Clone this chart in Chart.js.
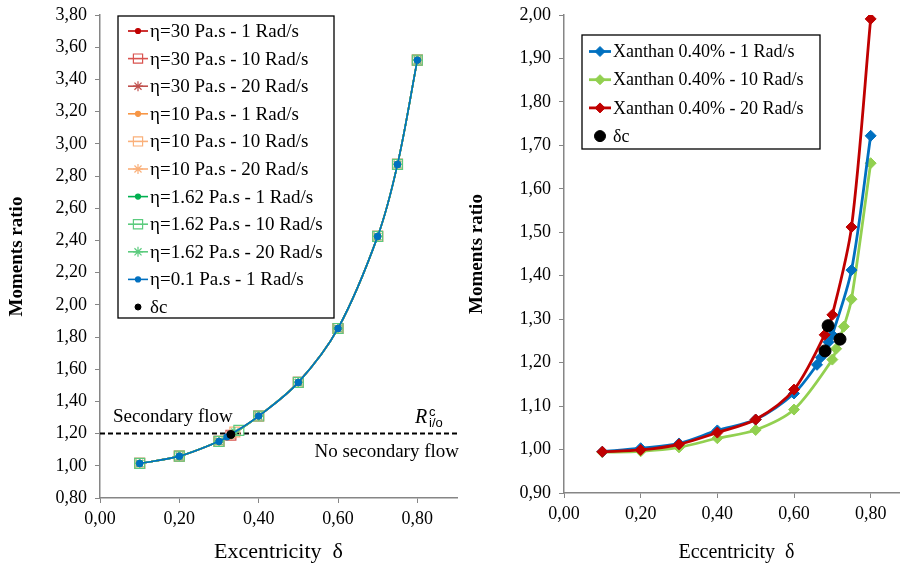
<!DOCTYPE html>
<html>
<head>
<meta charset="utf-8">
<script src="https://cdn.jsdelivr.net/npm/chart.js@4.4.1/dist/chart.umd.min.js"></script>
<style>
    html, body {margin: 0; padding: 0; background: #fff; width: 900px; height: 567px; overflow: hidden;}
    #left {position: absolute; left: 0; top: 0;}
    #right {position: absolute; left: 460px; top: 0;}
</style>
</head>
<body>
<canvas id="left" width="460" height="567"></canvas>
<canvas id="right" width="460" height="567"></canvas>
<script>
// ---- left chart: newtonian fluids ----
const eccentricity = [0.1, 0.2, 0.3, 0.4, 0.5, 0.6, 0.7, 0.75, 0.8];
const ratioNewtonian = [1.015, 1.060, 1.152, 1.309, 1.518, 1.853, 2.425, 2.872, 3.52];
const leftLabels = [
    'η=30 Pa.s - 1 Rad/s', 'η=30 Pa.s - 10 Rad/s', 'η=30 Pa.s - 20 Rad/s',
    'η=10 Pa.s - 1 Rad/s', 'η=10 Pa.s - 10 Rad/s', 'η=10 Pa.s - 20 Rad/s',
    'η=1.62 Pa.s - 1 Rad/s', 'η=1.62 Pa.s - 10 Rad/s', 'η=1.62 Pa.s - 20 Rad/s',
    'η=0.1 Pa.s - 1 Rad/s'
];
const leftColors = ['#C00000', '#D9534F', '#C0504D', '#F79646', '#FAB07A', '#FAB07A',
    '#00B050', '#5CCB7E', '#5CCB7E', '#0070C0'];
const leftMarkers = ['circle', 'rect', 'star', 'circle', 'rect', 'star', 'circle', 'rect', 'star', 'circle'];
const critEccentricity = [0.33, 0.33, 0.33, 0.32, 0.34, 0.33, 0.33, 0.35, 0.34, 0.32];
const critRatio = [1.19, 1.19, 1.19, 1.18, 1.21, 1.19, 1.19, 1.22, 1.21, 1.18];
const criticalLeft = [{x: 0.33, y: 1.195}];
const thresholdRatio = 1.20;

// ---- right chart: xanthan 0.40% ----
const xanthanEcc1 = [0.1, 0.2, 0.3, 0.4, 0.5, 0.6, 0.66, 0.67, 0.69, 0.7, 0.75, 0.8];
const xanthan1 = [0.995, 1.003, 1.014, 1.044, 1.069, 1.129, 1.195, 1.212, 1.247, 1.264, 1.413, 1.722];
const xanthanEcc10 = [0.1, 0.2, 0.3, 0.4, 0.5, 0.6, 0.7, 0.71, 0.73, 0.75, 0.8];
const xanthan10 = [0.994, 0.996, 1.005, 1.026, 1.045, 1.092, 1.207, 1.232, 1.283, 1.346, 1.659];
const xanthanEcc20 = [0.1, 0.2, 0.3, 0.4, 0.5, 0.6, 0.68, 0.7, 0.75, 0.8];
const xanthan20 = [0.995, 0.999, 1.012, 1.039, 1.069, 1.138, 1.264, 1.310, 1.512, 1.991];
const criticalEccRight = [0.681, 0.689, 0.72];
const criticalRatioRight = [1.227, 1.285, 1.254];

const serif = '"Liberation Serif", "Times New Roman", serif';
Chart.defaults.font.family = serif;
Chart.defaults.color = '#000';

const toPoints = (xs, ys) => xs.map((x, i) => ({x: x, y: ys[i]}));
const fmt = v => Number(v).toFixed(2).replace('.', ',');

function xAxis(title, titleSize, height) {
    return {
        type: 'linear', min: 0, max: 0.9,
        grid: {drawOnChartArea: false, drawTicks: true, tickLength: 5, color: '#868686'},
        border: {color: '#868686', width: 1.5},
        ticks: {stepSize: 0.2, includeBounds: false, padding: 5, font: {size: 18}, color: '#000', callback: fmt},
        title: {display: true, text: title, font: {size: titleSize}, color: '#000', padding: {top: 4, bottom: 2}},
        afterFit: scale => {
            scale.height = height;
            scale.paddingRight = 0;
        }
    };
}

function yAxis(min, max, step, titleSize, width) {
    return {
        type: 'linear', min: min, max: max,
        grid: {drawOnChartArea: false, drawTicks: true, tickLength: 5, color: '#868686'},
        border: {color: '#868686', width: 1.5},
        ticks: {stepSize: step, padding: 8, font: {size: 18}, color: '#000', callback: fmt},
        title: {display: true, text: 'Moments ratio', font: {size: titleSize, weight: 'bold'}, color: '#000', padding: {top: 6, bottom: 0}},
        afterFit: scale => {
            scale.width = width;
            scale.paddingTop = 0;
            scale.paddingBottom = 0;
        }
    };
}

// legend drawn inside the plot area, like the spreadsheet original
const boxLegend = {
    id: 'boxLegend',
    afterDraw(chart, args, opts) {
        const ctx = chart.ctx;
        const area = chart.chartArea;
        const left = area.left + opts.dx;
        const top = area.top + opts.dy;
        ctx.save();
        ctx.strokeStyle = '#000';
        ctx.lineWidth = 1.3;
        ctx.strokeRect(left, top, opts.width, opts.height);
        ctx.font = opts.fontSize + 'px ' + serif;
        ctx.textBaseline = 'middle';
        opts.items.forEach((item, i) => {
            const y = top + opts.firstRow + i * opts.rowHeight;
            const x0 = left + opts.lineStart;
            const x1 = x0 + opts.lineLength;
            if (item.line) {
                ctx.strokeStyle = item.color;
                ctx.lineWidth = item.lineWidth;
                ctx.beginPath();
                ctx.moveTo(x0, y);
                ctx.lineTo(x1, y);
                ctx.stroke();
            }
            ctx.strokeStyle = item.color;
            ctx.fillStyle = item.fill;
            ctx.lineWidth = item.borderWidth;
            Chart.helpers.drawPoint(ctx, {pointStyle: item.style, radius: item.radius, rotation: 0, borderWidth: item.borderWidth}, (x0 + x1) / 2, y);
            ctx.fillStyle = '#000';
            ctx.fillText(item.text, x1 + 2, y + 1);
        });
        ctx.restore();
    }
};

const flowNotes = {
    id: 'flowNotes',
    afterDraw(chart) {
        const ctx = chart.ctx;
        const area = chart.chartArea;
        const yLine = chart.scales.y.getPixelForValue(thresholdRatio);
        ctx.save();
        ctx.fillStyle = '#000';
        ctx.textBaseline = 'middle';
        ctx.font = '19px ' + serif;
        ctx.textAlign = 'left';
        ctx.fillText('Secondary flow', area.left + 13, yLine - 17);
        ctx.textAlign = 'right';
        ctx.fillText('No secondary flow', area.right + 2, yLine + 18);
        ctx.textAlign = 'left';
        ctx.textBaseline = 'alphabetic';
        ctx.font = 'italic 20px ' + serif;
        ctx.fillText('R', area.right - 42, yLine - 11);
        ctx.font = '13px "Liberation Sans", Arial, sans-serif';
        ctx.fillText('c', area.right - 28, yLine - 18);
        ctx.fillText('i/o', area.right - 28, yLine - 7);
        ctx.restore();
    }
};

// ---- left chart ----
const leftDatasets = leftLabels.map((label, i) => {
    const pts = toPoints(eccentricity, ratioNewtonian);
    pts.push({x: critEccentricity[i], y: critRatio[i]});
    pts.sort((a, b) => a.x - b.x);
    const marker = leftMarkers[i];
    return {
        label: label,
        data: pts,
        showLine: true,
        borderColor: leftColors[i],
        borderWidth: 1.6,
        pointStyle: marker,
        pointRadius: marker === 'circle' ? 3 : (marker === 'rect' ? 7 : 5),
        pointBorderColor: leftColors[i],
        pointBackgroundColor: marker === 'rect' ? 'rgba(0,0,0,0)' : leftColors[i],
        pointBorderWidth: 1.2,
        tension: 0.35,
        order: 10 - i
    };
});
leftDatasets.push({
    label: 'δc', data: criticalLeft, showLine: false,
    pointStyle: 'circle', pointRadius: 4, pointBackgroundColor: '#000', pointBorderColor: '#000', order: 0
});
leftDatasets.push({
    label: 'threshold', data: [{x: 0, y: thresholdRatio}, {x: 0.9, y: thresholdRatio}], showLine: true,
    borderColor: '#000', borderWidth: 2, borderDash: [5, 3], pointRadius: 0, order: 20
});

const leftLegendItems = leftLabels.map((label, i) => {
    const marker = leftMarkers[i];
    return {
        text: label, color: leftColors[i], line: true, lineWidth: 1.6,
        style: marker,
        radius: marker === 'circle' ? 2.5 : (marker === 'rect' ? 6.5 : 5),
        fill: marker === 'rect' ? 'rgba(0,0,0,0)' : leftColors[i],
        borderWidth: 1.2
    };
});
leftLegendItems.push({text: 'δc', color: '#000', line: false, style: 'circle', radius: 3, fill: '#000', borderWidth: 1});

new Chart(document.getElementById('left'), {
    type: 'scatter',
    data: {datasets: leftDatasets},
    options: {
        responsive: false,
        animation: false,
        layout: {autoPadding: false, padding: {top: 15, right: 3, left: 0, bottom: 0}},
        scales: {
            x: xAxis('Excentricity  δ', 22, 69),
            y: yAxis(0.8, 3.8, 0.2, 19, 100)
        },
        plugins: {
            legend: {display: false},
            tooltip: {enabled: false},
            boxLegend: {
                dx: 18, dy: 1, width: 216, height: 302, firstRow: 15, rowHeight: 27.6,
                lineStart: 10, lineLength: 20, fontSize: 19, items: leftLegendItems
            }
        }
    },
    plugins: [boxLegend, flowNotes]
});

// ---- right chart ----
const rightSeries = [
    {label: 'Xanthan 0.40% - 1 Rad/s', xs: xanthanEcc1, ys: xanthan1, color: '#0070C0', order: 2},
    {label: 'Xanthan 0.40% - 10 Rad/s', xs: xanthanEcc10, ys: xanthan10, color: '#92D050', order: 3},
    {label: 'Xanthan 0.40% - 20 Rad/s', xs: xanthanEcc20, ys: xanthan20, color: '#C00000', order: 1}
];
const rightDatasets = rightSeries.map(s => ({
    label: s.label,
    data: toPoints(s.xs, s.ys),
    showLine: true,
    borderColor: s.color,
    backgroundColor: s.color,
    borderWidth: 2.8,
    pointStyle: 'rectRot',
    pointRadius: 5.5,
    pointBorderWidth: 1,
    pointBackgroundColor: s.color,
    pointBorderColor: s.color,
    tension: 0.3,
    order: s.order
}));
rightDatasets.push({
    label: 'δc', data: toPoints(criticalEccRight, criticalRatioRight), showLine: false,
    pointStyle: 'circle', pointRadius: 6, pointBackgroundColor: '#000', pointBorderColor: '#000', order: 0
});

const rightLegendItems = rightSeries.map(s => ({
    text: s.label, color: s.color, line: true, lineWidth: 2.8,
    style: 'rectRot', radius: 5, fill: s.color, borderWidth: 1
}));
rightLegendItems.push({text: 'δc', color: '#000', line: false, style: 'circle', radius: 5.5, fill: '#000', borderWidth: 1});

new Chart(document.getElementById('right'), {
    type: 'scatter',
    data: {datasets: rightDatasets},
    options: {
        responsive: false,
        animation: false,
        layout: {autoPadding: false, padding: {top: 15, right: 11, left: 0, bottom: 0}},
        scales: {
            x: xAxis('Eccentricity  δ', 20, 74),
            y: yAxis(0.9, 2.0, 0.1, 19, 104)
        },
        plugins: {
            legend: {display: false},
            tooltip: {enabled: false},
            boxLegend: {
                dx: 18, dy: 20, width: 238, height: 114, firstRow: 16.5, rowHeight: 28.2,
                lineStart: 7, lineLength: 22, fontSize: 18, items: rightLegendItems
            }
        }
    },
    plugins: [boxLegend]
});
</script>
</body>
</html>
